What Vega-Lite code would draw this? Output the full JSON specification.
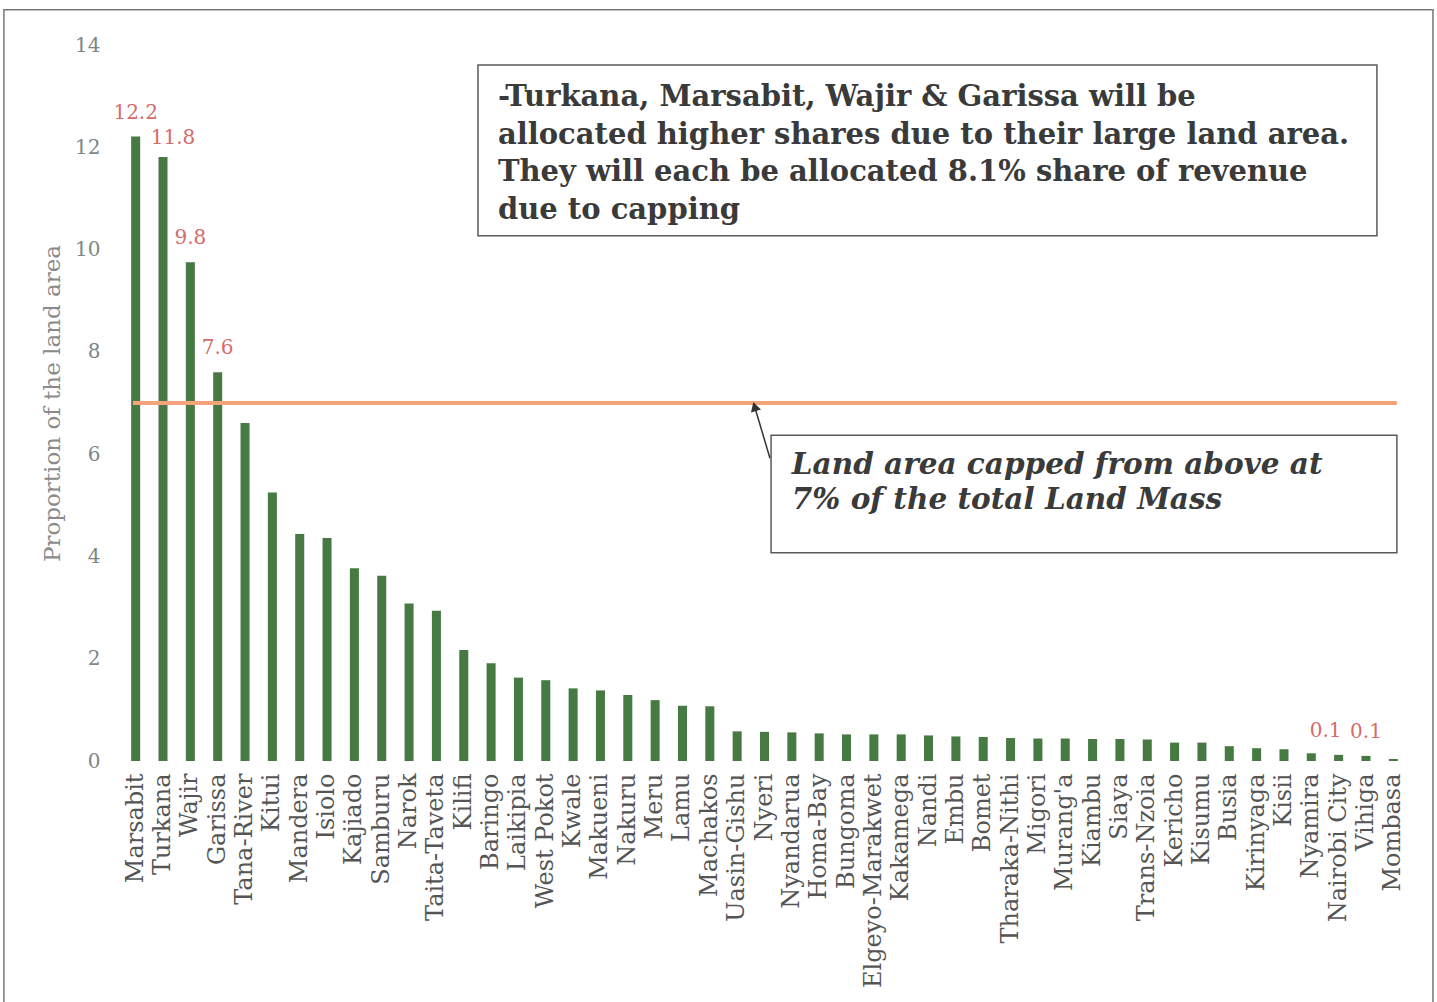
{
  "$schema": "https://vega.github.io/schema/vega-lite/v6.json",
  "width": 1285,
  "height": 716,
  "autosize": {"type": "none"},
  "padding": {"left": 122, "top": 45, "right": 30, "bottom": 241},
  "background": "white",
  "config": {"view": {"stroke": null}, "font": "DejaVu Serif"},
  "resolve": {"scale": {"x": "independent", "y": "independent"}},
  "layer": [
    {
      "data": {
        "values": [
          {"county": "Marsabit", "share": 12.21, "label": "12.2"},
          {"county": "Turkana", "share": 11.81, "label": "11.8"},
          {"county": "Wajir", "share": 9.75, "label": "9.8"},
          {"county": "Garissa", "share": 7.6, "label": "7.6"},
          {"county": "Tana-River", "share": 6.61},
          {"county": "Kitui", "share": 5.25},
          {"county": "Mandera", "share": 4.44},
          {"county": "Isiolo", "share": 4.36},
          {"county": "Kajiado", "share": 3.77},
          {"county": "Samburu", "share": 3.62},
          {"county": "Narok", "share": 3.08},
          {"county": "Taita-Taveta", "share": 2.94},
          {"county": "Kilifi", "share": 2.17},
          {"county": "Baringo", "share": 1.91},
          {"county": "Laikipia", "share": 1.63},
          {"county": "West Pokot", "share": 1.58},
          {"county": "Kwale", "share": 1.42},
          {"county": "Makueni", "share": 1.38},
          {"county": "Nakuru", "share": 1.29},
          {"county": "Meru", "share": 1.19},
          {"county": "Lamu", "share": 1.08},
          {"county": "Machakos", "share": 1.07},
          {"county": "Uasin-Gishu", "share": 0.58},
          {"county": "Nyeri", "share": 0.57},
          {"county": "Nyandarua", "share": 0.56},
          {"county": "Homa-Bay", "share": 0.54},
          {"county": "Bungoma", "share": 0.52},
          {"county": "Elgeyo-Marakwet", "share": 0.52},
          {"county": "Kakamega", "share": 0.52},
          {"county": "Nandi", "share": 0.5},
          {"county": "Embu", "share": 0.48},
          {"county": "Bomet", "share": 0.47},
          {"county": "Tharaka-Nithi", "share": 0.45},
          {"county": "Migori", "share": 0.44},
          {"county": "Murang'a", "share": 0.44},
          {"county": "Kiambu", "share": 0.43},
          {"county": "Siaya", "share": 0.43},
          {"county": "Trans-Nzoia", "share": 0.42},
          {"county": "Kericho", "share": 0.36},
          {"county": "Kisumu", "share": 0.36},
          {"county": "Busia", "share": 0.29},
          {"county": "Kirinyaga", "share": 0.25},
          {"county": "Kisii", "share": 0.23},
          {"county": "Nyamira", "share": 0.15},
          {"county": "Nairobi City", "share": 0.12, "label": "0.1"},
          {"county": "Vihiga", "share": 0.1, "label": "0.1"},
          {"county": "Mombasa", "share": 0.04}
        ]
      },
      "encoding": {
        "x": {
          "field": "county", "type": "nominal", "sort": null,
          "scale": {"paddingInner": 0, "paddingOuter": 0},
          "axis": {
            "title": null, "labelAngle": -90, "labelFontSize": 24, "labelColor": "#555555",
            "labelPadding": 12, "ticks": false, "domain": false, "labelLimit": 400,
            "labelOverlap": false, "labelFont": "DejaVu Serif"
          }
        },
        "y": {
          "field": "share", "type": "quantitative",
          "scale": {"domain": [0, 14], "nice": false},
          "axis": {
            "values": [0, 2, 4, 6, 8, 10, 12, 14], "grid": false, "ticks": false, "domain": false,
            "labelFontSize": 20, "labelColor": "#7d8787", "labelPadding": 22, "labelFont": "DejaVu Serif",
            "title": "Proportion of the land area", "titleFontSize": 23, "titleFontWeight": "normal",
            "titleColor": "#8a8a8a", "titlePadding": 10, "titleFont": "DejaVu Serif"
          }
        }
      },
      "layer": [
        {"mark": {"type": "bar", "width": {"band": 0.33}, "color": "#467a42"}},
        {
          "transform": [{"filter": "datum.label != null && datum.county != 'Turkana' && datum.county != 'Nairobi City'"}],
          "mark": {"type": "text", "dy": -24, "baseline": "middle", "align": "center", "fontSize": 20, "letterSpacing": 1.5, "color": "#d66b6b", "font": "DejaVu Serif"},
          "encoding": {"text": {"field": "label", "type": "nominal"}}
        },
        {
          "transform": [{"filter": "datum.county == 'Turkana'"}],
          "mark": {"type": "text", "dy": -19, "dx": 10, "baseline": "middle", "align": "center", "fontSize": 20, "letterSpacing": 1.5, "color": "#d66b6b", "font": "DejaVu Serif"},
          "encoding": {"text": {"field": "label", "type": "nominal"}}
        },
        {
          "transform": [{"filter": "datum.county == 'Nairobi City'"}],
          "mark": {"type": "text", "dy": -24, "dx": -13, "baseline": "middle", "align": "center", "fontSize": 20, "letterSpacing": 1, "color": "#d66b6b", "font": "DejaVu Serif"},
          "encoding": {"text": {"field": "label", "type": "nominal"}}
        }
      ]
    },
    {
      "data": {"values": [{}]},
      "layer": [
        {
          "mark": {"type": "rule", "color": "#f4a47a", "strokeWidth": 4},
          "encoding": {
            "x": {"datum": -0.1, "type": "quantitative", "scale": {"domain": [-0.5, 46.5], "nice": false, "zero": false}, "axis": null},
            "x2": {"datum": 46.13},
            "y": {"datum": 7, "type": "quantitative", "scale": {"domain": [0, 14], "nice": false}, "axis": null}
          }
        },
        {
          "mark": {"type": "rect", "fill": "transparent", "stroke": "#5a5a5a", "strokeWidth": 1.5},
          "encoding": {
            "x": {"datum": 12.52, "type": "quantitative"},
            "x2": {"datum": 45.4},
            "y": {"datum": 13.61, "type": "quantitative"},
            "y2": {"datum": 10.27}
          }
        },
        {
          "mark": {
            "type": "text", "align": "left", "baseline": "middle", "fontSize": 29, "fontWeight": "bold",
            "color": "#3a3a3a", "lineHeight": 37.5, "font": "DejaVu Serif",
            "text": ["-Turkana, Marsabit, Wajir & Garissa will be", "allocated higher shares due to their large land area.", "They will each be allocated 8.1% share of revenue", "due to capping"]
          },
          "encoding": {
            "x": {"datum": 13.25, "type": "quantitative"},
            "y": {"datum": 12.98, "type": "quantitative"}
          }
        },
        {
          "mark": {"type": "rect", "fill": "transparent", "stroke": "#5a5a5a", "strokeWidth": 1.5},
          "encoding": {
            "x": {"datum": 23.24, "type": "quantitative"},
            "x2": {"datum": 46.13},
            "y": {"datum": 6.37, "type": "quantitative"},
            "y2": {"datum": 4.07}
          }
        },
        {
          "mark": {
            "type": "text", "align": "left", "baseline": "middle", "fontSize": 29.5, "fontWeight": "bold",
            "fontStyle": "italic", "color": "#3a3a3a", "lineHeight": 35, "font": "DejaVu Serif",
            "text": ["Land area capped from above at", "7% of the total Land Mass"]
          },
          "encoding": {
            "x": {"datum": 24.0, "type": "quantitative"},
            "y": {"datum": 5.79, "type": "quantitative"}
          }
        },
        {
          "mark": {"type": "rule", "color": "#333333", "strokeWidth": 1.5},
          "encoding": {
            "x": {"datum": 23.2, "type": "quantitative"},
            "x2": {"datum": 22.6},
            "y": {"datum": 5.92, "type": "quantitative"},
            "y2": {"datum": 7.0}
          }
        },
        {
          "mark": {"type": "point", "shape": "triangle-up", "filled": true, "color": "#333333", "size": 110, "angle": 343, "opacity": 1},
          "encoding": {
            "x": {"datum": 22.64, "type": "quantitative"},
            "y": {"datum": 6.93, "type": "quantitative"}
          }
        },
        {
          "mark": {"type": "rect", "fill": "transparent", "stroke": "#777777", "strokeWidth": 1.5},
          "encoding": {
            "x": {"datum": -4.82, "type": "quantitative"},
            "x2": {"datum": 47.45},
            "y": {"datum": 14.69, "type": "quantitative"},
            "y2": {"datum": -4.87}
          }
        }
      ]
    }
  ]
}
